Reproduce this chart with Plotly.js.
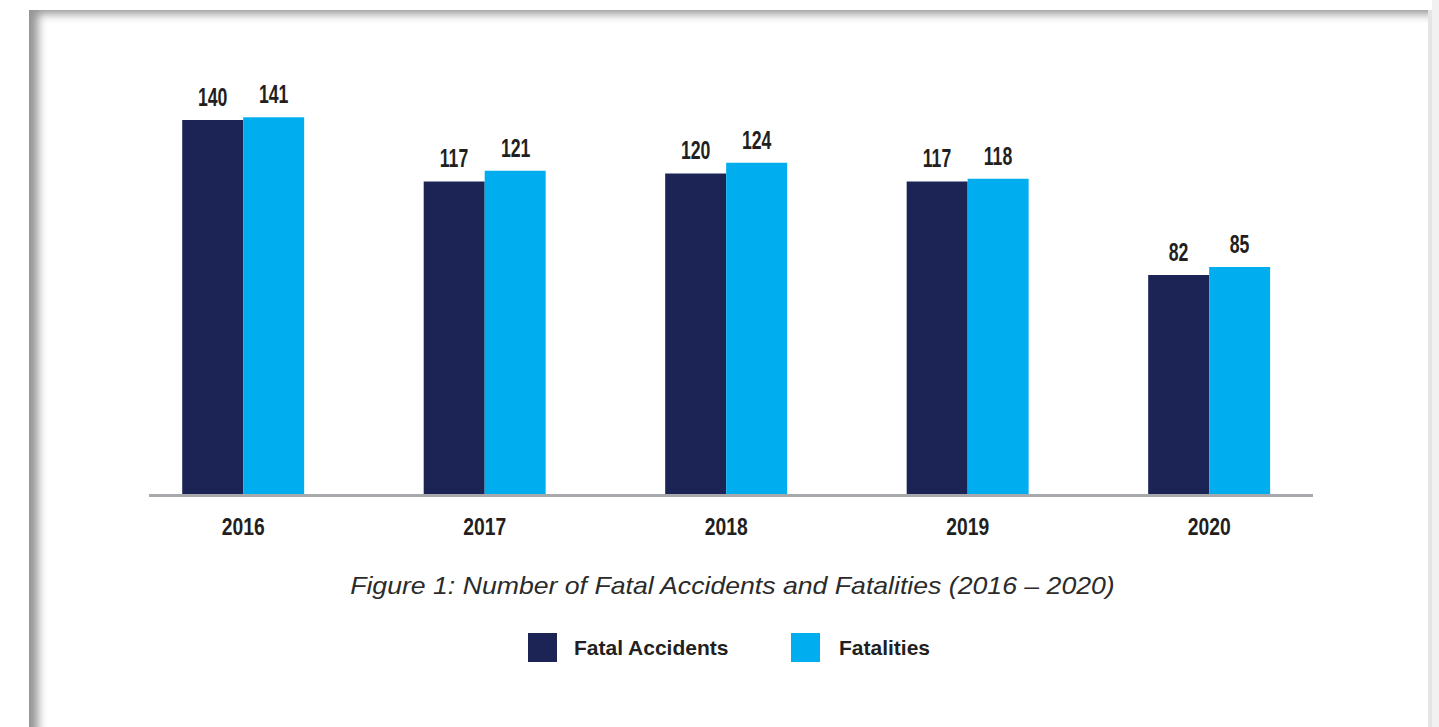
<!DOCTYPE html>
<html>
<head>
<meta charset="utf-8">
<script src="https://cdn.plot.ly/plotly-3.0.1.min.js"></script>
<style>
  html, body { margin: 0; padding: 0; width: 1439px; height: 727px; overflow: hidden; background: #ffffff; }
  #outside { position: absolute; left: 1432px; top: 0; width: 7px; height: 727px; background: #f1f1f1; }
  #frame { position: absolute; left: 29px; top: 10px; width: 1399px; height: 740px; background: #ffffff;
           box-shadow: inset 14px 9px 10px -5px rgba(0,0,0,0.42); border-right: 4px solid #e4e4e4; }
  #chart { position: absolute; left: 0; top: 0; width: 1439px; height: 727px; }
</style>
</head>
<body>
<div id="outside"></div>
<div id="frame"></div>
<div id="chart"></div>
<script>
// ---- data ----
const years = ["2016", "2017", "2018", "2019", "2020"];
const fatalAccidents = [140, 117, 120, 117, 82];
const fatalities = [141, 121, 124, 118, 85];
const seriesNames = ["Fatal Accidents", "Fatalities"];
const chartTitle = "Figure 1: Number of Fatal Accidents and Fatalities (2016 – 2020)";

// ---- styles ----
const navy = "#1c2455";
const cyan = "#00aeef";
const textDark = "#231f20";
const arial = "Liberation Sans, Arial, sans-serif";

const traces = [
  { type: "bar", name: seriesNames[0], x: years, y: fatalAccidents,
    marker: { color: navy }, showlegend: false, hoverinfo: "skip" },
  { type: "bar", name: seriesNames[1], x: years, y: fatalities,
    marker: { color: cyan }, showlegend: false, hoverinfo: "skip" }
];

const xDomain = [149 / 1439, 1313 / 1439];
const xRange = [-0.39, 4.43];
const bargap = 0.495;
const catPx = (xDomain[1] - xDomain[0]) * 1439 / (xRange[1] - xRange[0]);
const barPx = catPx * (1 - bargap) / 2;

// value labels above bars
const annotations = [];
years.forEach((yr, i) => {
  [fatalAccidents, fatalities].forEach((arr, k) => {
    annotations.push({
      x: i, y: arr[i], xref: "x", yref: "y",
      text: "<b>" + arr[i] + "</b>", showarrow: false,
      xanchor: "center", yanchor: "bottom",
      xshift: (k === 0 ? -1 : 1) * barPx / 2, yshift: 6,
      font: { family: arial, size: 26, color: textDark }
    });
  });
});
const nValueLabels = annotations.length;

// figure caption
annotations.push({
  x: 0.5087, y: 1 - 585 / 727, xref: "paper", yref: "paper",
  text: "<i>" + chartTitle + "</i>", showarrow: false,
  xanchor: "center", yanchor: "middle",
  font: { family: arial, size: 24, color: "#2b2b2b" }
});

// legend (manual, large square swatches)
const legendItems = [
  { name: seriesNames[0], color: navy, sx: 528, tx: 572 },
  { name: seriesNames[1], color: cyan, sx: 791, tx: 837 }
];
const shapes = [];
legendItems.forEach(it => {
  shapes.push({ type: "rect", xref: "paper", yref: "paper",
    x0: it.sx / 1439, x1: (it.sx + 29) / 1439,
    y0: 1 - 662 / 727, y1: 1 - 633 / 727,
    fillcolor: it.color, line: { width: 0 } });
  annotations.push({ x: it.tx / 1439, y: 1 - 647 / 727, xref: "paper", yref: "paper",
    text: "<b>" + it.name + "</b>", showarrow: false, xanchor: "left", yanchor: "middle",
    font: { family: arial, size: 21, color: textDark } });
});

const layout = {
  width: 1439, height: 727,
  margin: { l: 0, r: 0, t: 0, b: 0, pad: 0 },
  paper_bgcolor: "rgba(0,0,0,0)", plot_bgcolor: "rgba(0,0,0,0)",
  barmode: "group", bargap: bargap, bargroupgap: 0,
  showlegend: false,
  xaxis: {
    domain: xDomain, range: xRange, type: "category",
    showline: true, linecolor: "#a7a9ac", linewidth: 3,
    showgrid: false, zeroline: false, ticks: "", ticklabelstandoff: 10,
    tickfont: { family: arial, size: 23, color: textDark, weight: "bold" },
    fixedrange: true
  },
  yaxis: {
    domain: [1 - 494 / 727, 1 - 93.3 / 727], range: [0, 150],
    showticklabels: false, showline: false, ticks: "",
    showgrid: false, zeroline: false, fixedrange: true
  },
  annotations: annotations,
  shapes: shapes
};

// narrow the glyphs horizontally (reference uses condensed faces)
function squeeze(el, factor) {
  const w = el.getComputedTextLength();
  if (w > 0) {
    el.setAttribute("textLength", (w * factor).toFixed(2));
    el.setAttribute("lengthAdjust", "spacingAndGlyphs");
  }
}

Plotly.newPlot("chart", traces, layout, { displayModeBar: false, staticPlot: true }).then(gd => {
  gd.querySelectorAll(".xtick text").forEach(t => squeeze(t, 0.84));
  const anns = gd.querySelectorAll(".annotation");
  anns.forEach(a => {
    const idx = +a.getAttribute("data-index");
    const t = a.querySelector("text");
    if (!t) return;
    if (idx < nValueLabels) squeeze(t, 0.68);
    else if (idx === nValueLabels) squeeze(t, 1.11);
  });
});
</script>
</body>
</html>
